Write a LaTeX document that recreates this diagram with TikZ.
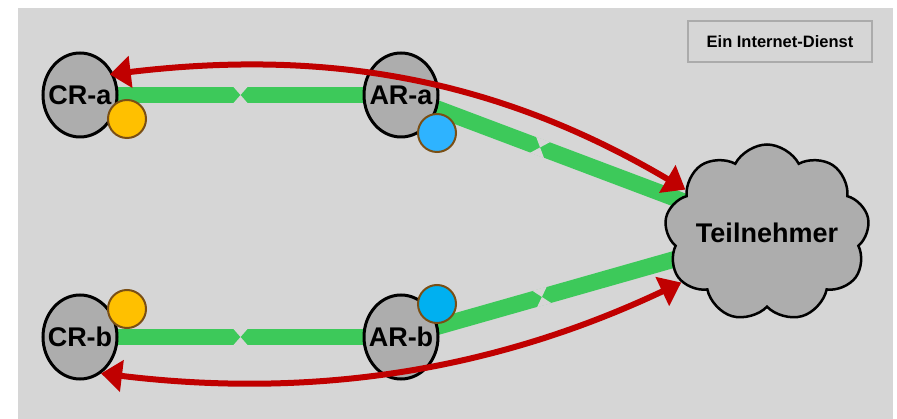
\documentclass[tikz,border=0pt]{standalone}
\usepackage{fontspec}
\setmainfont{Liberation Sans}
\usetikzlibrary{shapes.geometric,shapes.symbols,arrows.meta,decorations.markings,calc}
\definecolor{bgc}{HTML}{D6D6D6}
\definecolor{nodec}{HTML}{ADADAD}
\definecolor{greenc}{HTML}{3DC95A}
\definecolor{redc}{HTML}{C00000}
\definecolor{yellowc}{HTML}{FFC000}
\definecolor{brownc}{HTML}{7A4F15}
\definecolor{bluea}{HTML}{2EB3FF}
\definecolor{blueb}{HTML}{00B0F0}
\definecolor{boxc}{HTML}{ABABAB}
\pgfdeclarelayer{back}
\pgfdeclarelayer{links}
\pgfsetlayers{back,links,main}
\begin{document}
\begin{tikzpicture}[x=1pt,y=-1pt,
  router/.style={ellipse, draw=black, line width=3pt, fill=nodec, minimum width=74pt, minimum height=84pt, inner sep=0pt,
     label={[font=\fontsize{27}{27}\selectfont\bfseries, inner sep=0pt]center:#1}},
  cloudnode/.style={cloud, cloud puffs=9, cloud puff arc=125, aspect=1.2, draw=black, line width=2.5pt, fill=nodec, minimum width=205pt, minimum height=177pt, inner sep=0pt,
     label={[font=\fontsize{27}{27}\selectfont\bfseries, inner sep=0pt]center:#1}},
  legend/.style={rectangle, draw=boxc, line width=1.5pt, fill=bgc, minimum width=184pt, minimum height=41pt, inner sep=0pt, font=\fontsize{16.5}{16.5}\selectfont\bfseries},
  dotnode/.style={circle, draw=brownc, line width=2pt, minimum size=38pt, inner sep=0pt},
  gapmark/.style={decoration={markings, mark=at position #1 with {
      \fill[bgc] (-7.5,8.6) -- (0,0) -- (7.5,8.6) -- cycle;
      \fill[bgc] (-7.5,-8.6) -- (0,0) -- (7.5,-8.6) -- cycle;}}, postaction={decorate}},
  link/.style={draw=greenc, line width=16.5pt},
  redarrow/.style={draw=redc, line width=6pt, {Triangle[length=21pt,width=31pt]}-{Triangle[length=21pt,width=31pt]}}
]
\useasboundingbox (0,0) rectangle (897,419);
\begin{pgfonlayer}{back}
\fill[bgc] (18,8) rectangle (893,419);
\end{pgfonlayer}

\node[cloudnode=Teilnehmer] (tn) at (767,233) {};
\node[router=CR-a] (cra) at (80,95) {};
\node[router=AR-a] (ara) at (401,95) {};
\node[router=CR-b] (crb) at (80,337) {};
\node[router=AR-b] (arb) at (401,337) {};
\node[legend] (svc) at (780,41.5) {Ein Internet-Dienst};
\node[dotnode, fill=yellowc] (ya) at (127,119) {};
\node[dotnode, fill=yellowc] (yb) at (127,309) {};
\node[dotnode, fill=bluea] (ba) at (437,133) {};
\node[dotnode, fill=blueb] (bb) at (437,304) {};

\begin{pgfonlayer}{links}
\draw[link, gapmark=0.5] (cra.center) -- (ara.center);
\draw[link, gapmark=0.5] (crb.center) -- (arb.center);
\draw[link, gapmark=0.38] (ara.center) -- (tn.center);
\draw[link, gapmark=0.385] (arb.center) -- (tn.center);
\end{pgfonlayer}

\draw[redarrow, shorten <=-4pt] (cra.32) .. controls (330,48) and (500,80) .. (tn.152);
\draw[redarrow] (crb.-60) .. controls (320,400) and (500,368) .. (tn.210);
\end{tikzpicture}
\end{document}
